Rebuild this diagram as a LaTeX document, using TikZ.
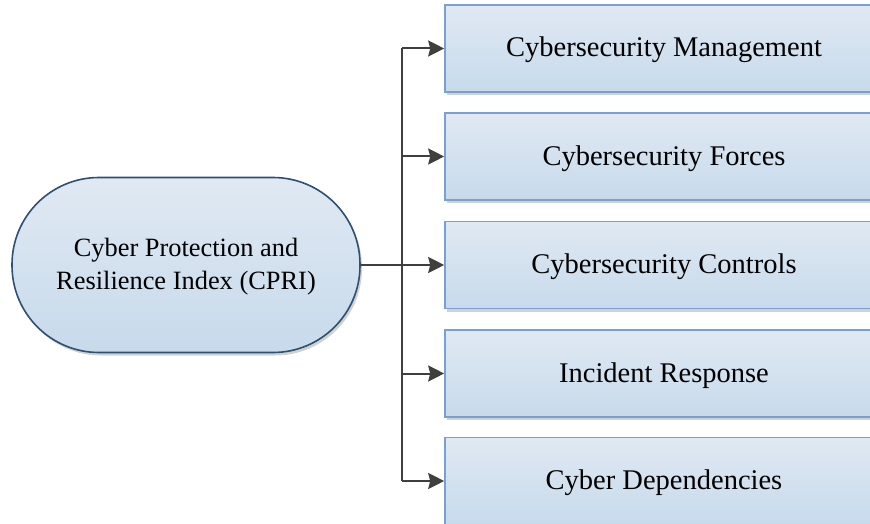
\documentclass[tikz,border=0pt]{standalone}
\usepackage{fontspec}
\setmainfont{Liberation Serif}
\usetikzlibrary{arrows.meta,shadows}
\definecolor{fillTop}{HTML}{E0E9F3}
\definecolor{fillBot}{HTML}{C7DAEB}
\definecolor{boxEdge}{HTML}{79A1CF}
\definecolor{rootEdge}{HTML}{2E5072}
\definecolor{wire}{HTML}{3F3F3F}
\tikzset{
  soft/.style={drop shadow={shadow xshift=2pt, shadow yshift=-3pt, opacity=0.18, fill=black}},
  branchbox/.style={rectangle, draw=boxEdge, line width=1.6pt,
    top color=fillTop, bottom color=fillBot, soft,
    minimum width=438pt, minimum height=87pt, inner sep=0pt,
    text height=21pt, text depth=4pt,
    font=\fontsize{28.5}{34}\selectfont},
  rootbox/.style={rectangle, rounded corners=87pt, draw=rootEdge, line width=1.6pt,
    top color=fillTop, bottom color=fillBot, soft,
    minimum width=348pt, minimum height=175pt, inner sep=0pt, align=center,
    text height=52pt, text depth=4pt,
    font=\fontsize{26.4}{33}\selectfont},
  link/.style={draw=wire, line width=2pt},
  arrowlink/.style={link, -{Stealth[length=16pt, width=16pt, inset=2pt]}}
}
\begin{document}
\begin{tikzpicture}[x=1pt, y=-1pt]
  \useasboundingbox (0,0) rectangle (870,524);
  \clip (0,0) rectangle (870,524);

  % central index
  \node[rootbox] (cpri) at (186,265) {Cyber Protection and\\Resilience Index (CPRI)};

  % the five components
  \node[branchbox] (b1) at (664,48.5) {Cybersecurity Management};
  \node[branchbox] (b2) at (664,156.5) {Cybersecurity Forces};
  \node[branchbox] (b3) at (664,265) {Cybersecurity Controls};
  \node[branchbox] (b4) at (664,373.5) {Incident Response};
  \node[branchbox] (b5) at (664,481) {Cyber Dependencies};

  % vertical trunk and branch arrows
  \coordinate (trunk) at (402,0);
  \draw[link] (b1.west -| trunk) -- (b5.west -| trunk);
  \draw[link] (cpri.east) -- (b3.west -| trunk);
  \foreach \b in {b1,b2,b3,b4,b5}
    \draw[arrowlink] (\b.west -| trunk) -- (\b.west);
\end{tikzpicture}
\end{document}
